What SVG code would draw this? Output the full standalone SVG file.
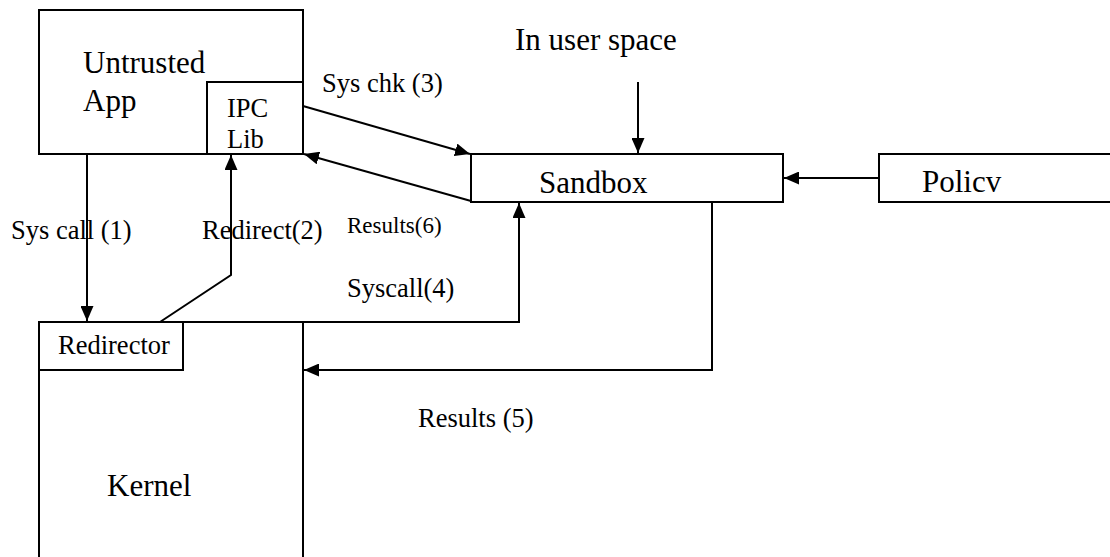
<svg xmlns="http://www.w3.org/2000/svg" width="1110" height="557" viewBox="0 0 1110 557">
<style>
.box{fill:none;stroke:#000;stroke-width:2}
.ln{fill:none;stroke:#000;stroke-width:2}
text{font-family:"Liberation Serif","Times New Roman",serif;fill:#000}
.big{font-size:31px}
.mid{font-size:26.5px}
.sm{font-size:23px}
</style>
<defs>
<marker id="ah" markerUnits="userSpaceOnUse" markerWidth="15" markerHeight="13" refX="15" refY="6.5" orient="auto">
<path d="M0,0 L15,6.5 L0,13 z" fill="#000"/>
</marker>
</defs>
<rect width="1110" height="557" fill="#fff"/>
<g id="app">
<rect class="box" x="39" y="10" width="264" height="144"/>
<text class="big" x="83" y="73">Untrusted</text>
<text class="big" x="83" y="111">App</text>
</g>
<g id="ipclib">
<rect class="box" x="207" y="82" width="96" height="72"/>
<text class="mid" x="227" y="117">IPC</text>
<text class="mid" x="227" y="148">Lib</text>
</g>
<g id="sandbox">
<rect class="box" x="471" y="154" width="312" height="48"/>
<text class="big" x="539" y="193">Sandbox</text>
</g>
<g id="policy">
<rect class="box" x="879" y="154" width="250" height="48"/>
<text class="big" x="922" y="192">Policv</text>
</g>
<g id="kernel">
<rect class="box" x="39" y="322" width="264" height="260"/>
<text class="big" x="107" y="496">Kernel</text>
</g>
<g id="redirector">
<rect class="box" x="39" y="322" width="144" height="48"/>
<text class="mid" x="58" y="354">Redirector</text>
</g>
<g id="userspace">
<text class="big" x="515" y="50">In user space</text>
</g>
<g id="connectors">
<line class="ln" x1="638" y1="82" x2="638" y2="153" marker-end="url(#ah)"/>
<line class="ln" x1="303" y1="106" x2="470" y2="154" marker-end="url(#ah)"/>
<line class="ln" x1="471" y1="201" x2="304" y2="154" marker-end="url(#ah)"/>
<line class="ln" x1="879" y1="178" x2="784" y2="178" marker-end="url(#ah)"/>
<line class="ln" x1="87" y1="154" x2="87" y2="321" marker-end="url(#ah)"/>
<polyline class="ln" points="160,322 231,275 231,155" marker-end="url(#ah)"/>
<polyline class="ln" points="303,322 519,322 519,203" marker-end="url(#ah)"/>
<polyline class="ln" points="712,202 712,370 304,370" marker-end="url(#ah)"/>
<text class="mid" x="322" y="92">Sys chk (3)</text>
<text class="mid" x="11" y="239">Sys call (1)</text>
<text class="mid" x="202" y="239">Redirect(2)</text>
<text class="sm" x="347" y="233">Results(6)</text>
<text class="mid" x="347" y="297">Syscall(4)</text>
<text class="mid" x="418" y="427">Results (5)</text>
</g>
</svg>
